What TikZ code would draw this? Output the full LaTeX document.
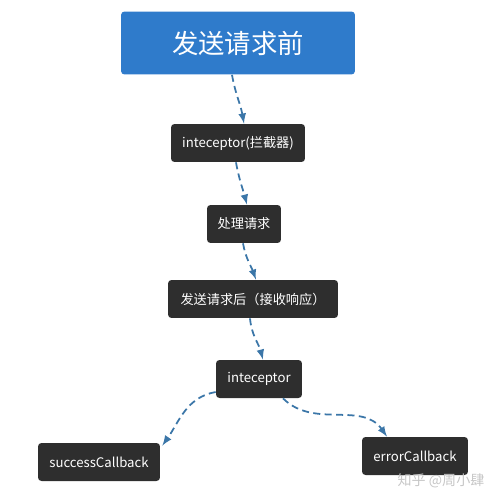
\documentclass[tikz,border=0pt]{standalone}
\usepackage{fontspec}
\setmainfont{Noto Sans CJK SC}
\usepackage{tikz}
\usetikzlibrary{arrows}
\definecolor{boxblue}{HTML}{2F7BCB}
\definecolor{boxdark}{HTML}{2E2E2E}
\definecolor{linkblue}{HTML}{3B76A8}

\begin{document}
\begin{tikzpicture}[x=0.02cm, y=-0.02cm,
    darkbox/.style={fill=boxdark, text=white, rounded corners=2pt, minimum height=0.76cm, inner sep=0pt, font=\fontsize{7.5}{9}\selectfont},
    link/.style={line width=1pt, dash pattern=on 4pt off 2.5pt, linkblue, -latex}]
    \useasboundingbox (0,0) rectangle (500,503);

    \node[fill=boxblue, text=white, rounded corners=2pt, minimum width=4.68cm, minimum height=1.26cm, inner sep=0pt, font=\fontsize{15}{18}\selectfont] (before) at (238,43) {发送请求前};
    \node[darkbox, minimum width=2.68cm] (intc) at (238,143) {inteceptor(拦截器)};
    \node[darkbox, minimum width=1.48cm] (proc) at (244,224) {处理请求};
    \node[darkbox, minimum width=3.4cm] (after) at (253,299) {发送请求后（接收响应）};
    \node[darkbox, minimum width=1.72cm] (intcback) at (259,379) {inteceptor};
    \node[darkbox, minimum width=2.44cm] (success) at (99,462) {successCallback};
    \node[darkbox, minimum width=2.12cm] (error) at (415,456) {errorCallback};
    \node[text=gray!45, font=\fontsize{8}{9}\selectfont] (mark) at (441,481) {知乎 @周小肆};

    \draw[link] ([xshift=-0.12cm]before.south) to[out=-80, in=100] ([xshift=0.12cm]intc.north);
    \draw[link] ([xshift=-0.04cm]intc.south) to[out=-80, in=105] ([xshift=0.06cm]proc.north);
    \draw[link] ([xshift=-0.02cm]proc.south) to[out=-80, in=110] ([xshift=0.06cm]after.north);
    \draw[link] ([xshift=-0.06cm]after.south) to[out=-85, in=105] ([xshift=0.08cm]intcback.north);
    \draw[link] ([yshift=-0.26cm]intcback.west) to[out=190, in=55] ([xshift=0.04cm, yshift=-0.06cm]success.north east);
    \draw[link] ([xshift=0.48cm]intcback.south) to[out=-45, in=125] ([xshift=-0.56cm]error.north);
\end{tikzpicture}
\end{document}
